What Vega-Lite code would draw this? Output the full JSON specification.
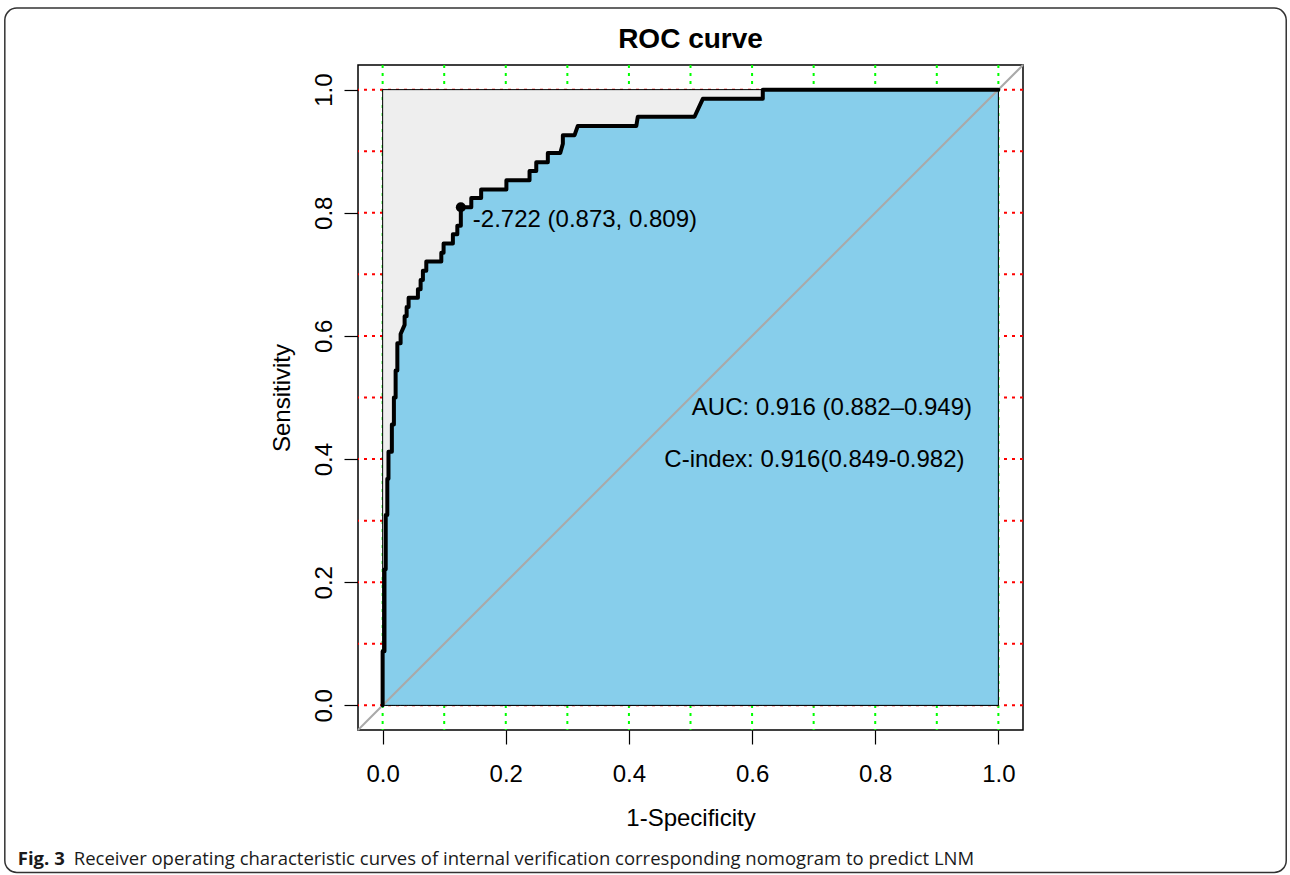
{
  "$schema": "https://vega.github.io/schema/vega-lite/v6.json",
  "autosize": {"type": "none"},
  "padding": {"left": 358, "top": 65, "right": 267, "bottom": 145},
  "width": 665,
  "height": 665,
  "background": "white",
  "config": {"font": "Liberation Sans", "view": {"stroke": "black", "strokeWidth": 1.5}},
  "title": {"text": "ROC curve", "fontSize": 28, "fontWeight": "bold", "font": "Liberation Sans", "color": "black", "anchor": "middle", "frame": "group", "baseline": "alphabetic", "offset": 17, "dy": 86},
  "datasets": {
    "one": [{"k": 1}],
    "grid": [{"v": 0}, {"v": 0.1}, {"v": 0.2}, {"v": 0.3}, {"v": 0.4}, {"v": 0.5}, {"v": 0.6}, {"v": 0.7}, {"v": 0.8}, {"v": 0.9}, {"v": 1}],
    "roc": [
      {"i": 1, "fpr": 0, "tpr": 0},
      {"i": 2, "fpr": 0, "tpr": 0.088},
      {"i": 3, "fpr": 0.003, "tpr": 0.088},
      {"i": 4, "fpr": 0.003, "tpr": 0.221},
      {"i": 5, "fpr": 0.005, "tpr": 0.221},
      {"i": 6, "fpr": 0.005, "tpr": 0.309},
      {"i": 7, "fpr": 0.0076, "tpr": 0.309},
      {"i": 8, "fpr": 0.0076, "tpr": 0.368},
      {"i": 9, "fpr": 0.0095, "tpr": 0.368},
      {"i": 10, "fpr": 0.0095, "tpr": 0.412},
      {"i": 11, "fpr": 0.015, "tpr": 0.412},
      {"i": 12, "fpr": 0.015, "tpr": 0.456},
      {"i": 13, "fpr": 0.0183, "tpr": 0.456},
      {"i": 14, "fpr": 0.0183, "tpr": 0.5},
      {"i": 15, "fpr": 0.0211, "tpr": 0.5},
      {"i": 16, "fpr": 0.0211, "tpr": 0.544},
      {"i": 17, "fpr": 0.0239, "tpr": 0.544},
      {"i": 18, "fpr": 0.0239, "tpr": 0.588},
      {"i": 19, "fpr": 0.0292, "tpr": 0.588},
      {"i": 20, "fpr": 0.0292, "tpr": 0.603},
      {"i": 21, "fpr": 0.0357, "tpr": 0.618},
      {"i": 22, "fpr": 0.0357, "tpr": 0.632},
      {"i": 23, "fpr": 0.039, "tpr": 0.632},
      {"i": 24, "fpr": 0.039, "tpr": 0.647},
      {"i": 25, "fpr": 0.0422, "tpr": 0.647},
      {"i": 26, "fpr": 0.0422, "tpr": 0.662},
      {"i": 27, "fpr": 0.0573, "tpr": 0.662},
      {"i": 28, "fpr": 0.0573, "tpr": 0.676},
      {"i": 29, "fpr": 0.0617, "tpr": 0.676},
      {"i": 30, "fpr": 0.0617, "tpr": 0.691},
      {"i": 31, "fpr": 0.0654, "tpr": 0.691},
      {"i": 32, "fpr": 0.0654, "tpr": 0.706},
      {"i": 33, "fpr": 0.0709, "tpr": 0.706},
      {"i": 34, "fpr": 0.0709, "tpr": 0.721},
      {"i": 35, "fpr": 0.0953, "tpr": 0.721},
      {"i": 36, "fpr": 0.0953, "tpr": 0.735},
      {"i": 37, "fpr": 0.099, "tpr": 0.735},
      {"i": 38, "fpr": 0.099, "tpr": 0.75},
      {"i": 39, "fpr": 0.1141, "tpr": 0.75},
      {"i": 40, "fpr": 0.1141, "tpr": 0.765},
      {"i": 41, "fpr": 0.1213, "tpr": 0.765},
      {"i": 42, "fpr": 0.1213, "tpr": 0.779},
      {"i": 43, "fpr": 0.127, "tpr": 0.779},
      {"i": 44, "fpr": 0.127, "tpr": 0.809},
      {"i": 45, "fpr": 0.144, "tpr": 0.809},
      {"i": 46, "fpr": 0.144, "tpr": 0.824},
      {"i": 47, "fpr": 0.16, "tpr": 0.824},
      {"i": 48, "fpr": 0.16, "tpr": 0.838},
      {"i": 49, "fpr": 0.201, "tpr": 0.838},
      {"i": 50, "fpr": 0.201, "tpr": 0.853},
      {"i": 51, "fpr": 0.2386, "tpr": 0.853},
      {"i": 52, "fpr": 0.2386, "tpr": 0.868},
      {"i": 53, "fpr": 0.2495, "tpr": 0.868},
      {"i": 54, "fpr": 0.2495, "tpr": 0.882},
      {"i": 55, "fpr": 0.2683, "tpr": 0.882},
      {"i": 56, "fpr": 0.2683, "tpr": 0.897},
      {"i": 57, "fpr": 0.2885, "tpr": 0.897},
      {"i": 58, "fpr": 0.2927, "tpr": 0.912},
      {"i": 59, "fpr": 0.2927, "tpr": 0.926},
      {"i": 60, "fpr": 0.3117, "tpr": 0.926},
      {"i": 61, "fpr": 0.317, "tpr": 0.941},
      {"i": 62, "fpr": 0.412, "tpr": 0.941},
      {"i": 63, "fpr": 0.4144, "tpr": 0.956},
      {"i": 64, "fpr": 0.5065, "tpr": 0.956},
      {"i": 65, "fpr": 0.52, "tpr": 0.985},
      {"i": 66, "fpr": 0.6174, "tpr": 0.985},
      {"i": 67, "fpr": 0.6174, "tpr": 1},
      {"i": 68, "fpr": 1, "tpr": 1}
    ],
    "thr": [{"fpr": 0.127, "tpr": 0.809, "label": "-2.722 (0.873, 0.809)"}],
    "notes": [
      {"x": 0.7297, "y": 0.4825, "label": "AUC: 0.916 (0.882–0.949)"},
      {"x": 0.7013, "y": 0.398, "label": "C-index: 0.916(0.849-0.982)"}
    ]
  },
  "layer": [
    {
      "data": {"name": "grid"},
      "mark": {"type": "rule", "stroke": "#00FF00", "strokeWidth": 2, "strokeDash": [3, 5]},
      "encoding": {
        "x": {"field": "v", "type": "quantitative", "scale": {"domain": [-0.04, 1.04], "nice": false, "zero": false},
          "axis": {"title": "1-Specificity", "values": [0, 0.2, 0.4, 0.6, 0.8, 1], "format": ".1f", "domain": false, "grid": false, "ticks": true, "tickColor": "black", "tickSize": 14, "tickWidth": 1.2, "labelFontSize": 24, "labelColor": "black", "labelFont": "Liberation Sans", "labelPadding": 18, "labelFlush": false, "labelOverlap": false, "titleFont": "Liberation Sans", "titleFontSize": 24, "titleFontWeight": "normal", "titleColor": "black", "titlePadding": 20}}
      }
    },
    {
      "data": {"name": "grid"},
      "mark": {"type": "rule", "stroke": "#FF0000", "strokeWidth": 2, "strokeDash": [3, 5]},
      "encoding": {
        "y": {"field": "v", "type": "quantitative", "scale": {"domain": [-0.04, 1.04], "nice": false, "zero": false},
          "axis": {"title": "Sensitivity", "values": [0, 0.2, 0.4, 0.6, 0.8, 1], "format": ".1f", "domain": false, "grid": false, "ticks": true, "tickColor": "black", "tickSize": 14, "tickWidth": 1.2, "labelFontSize": 24, "labelColor": "black", "labelFont": "Liberation Sans", "labelAngle": -90, "labelAlign": "center", "labelBaseline": "alphabetic", "labelPadding": 13, "labelFlush": false, "labelOverlap": false, "titleFont": "Liberation Sans", "titleFontSize": 24, "titleFontWeight": "normal", "titleColor": "black", "titlePadding": 18}}
      }
    },
    {
      "data": {"name": "one"},
      "mark": {"type": "rect", "fill": "#EEEEEE", "stroke": "black", "strokeWidth": 1},
      "encoding": {
        "x": {"datum": 0, "type": "quantitative"},
        "x2": {"datum": 1},
        "y": {"datum": 0, "type": "quantitative"},
        "y2": {"datum": 1}
      }
    },
    {
      "data": {"name": "roc"},
      "mark": {"type": "area", "fill": "#87CEEB", "stroke": "black", "strokeWidth": 1, "interpolate": "linear"},
      "encoding": {
        "x": {"field": "fpr", "type": "quantitative"},
        "y": {"field": "tpr", "type": "quantitative", "stack": null},
        "y2": {"datum": 0}
      }
    },
    {
      "data": {"name": "one"},
      "mark": {"type": "rule", "stroke": "#A9A9A9", "strokeWidth": 2},
      "encoding": {
        "x": {"datum": -0.04, "type": "quantitative"},
        "x2": {"datum": 1.04},
        "y": {"datum": -0.04, "type": "quantitative"},
        "y2": {"datum": 1.04}
      }
    },
    {
      "data": {"name": "roc"},
      "mark": {"type": "line", "stroke": "black", "strokeWidth": 4, "strokeJoin": "round", "strokeCap": "round", "interpolate": "linear"},
      "encoding": {
        "x": {"field": "fpr", "type": "quantitative"},
        "y": {"field": "tpr", "type": "quantitative"},
        "order": {"field": "i", "type": "quantitative"}
      }
    },
    {
      "data": {"name": "thr"},
      "mark": {"type": "point", "shape": "circle", "filled": true, "color": "black", "size": 100, "opacity": 1},
      "encoding": {
        "x": {"field": "fpr", "type": "quantitative"},
        "y": {"field": "tpr", "type": "quantitative"}
      }
    },
    {
      "data": {"name": "thr"},
      "mark": {"type": "text", "font": "Liberation Sans", "fontSize": 24, "color": "black", "align": "left", "baseline": "middle", "dx": 12, "dy": 13},
      "encoding": {
        "x": {"field": "fpr", "type": "quantitative"},
        "y": {"field": "tpr", "type": "quantitative"},
        "text": {"field": "label"}
      }
    },
    {
      "data": {"name": "notes"},
      "mark": {"type": "text", "font": "Liberation Sans", "fontSize": 24, "color": "black", "align": "center", "baseline": "middle"},
      "encoding": {
        "x": {"field": "x", "type": "quantitative"},
        "y": {"field": "y", "type": "quantitative"},
        "text": {"field": "label"}
      }
    },
    {
      "data": {"name": "one"},
      "mark": {"type": "rect", "fill": null, "fillOpacity": 0, "stroke": "#333333", "strokeWidth": 1.5, "cornerRadius": 12, "clip": false},
      "encoding": {
        "x": {"datum": -0.6136, "type": "quantitative"},
        "x2": {"datum": 1.4675},
        "y": {"datum": 1.1324, "type": "quantitative"},
        "y2": {"datum": -0.2713}
      }
    },
    {
      "data": {"name": "one"},
      "mark": {"type": "text", "text": "Fig. 3", "font": "Open Sans", "fontWeight": "bold", "fontSize": 18.5, "color": "#1a1a1a", "align": "left", "baseline": "alphabetic", "clip": false},
      "encoding": {
        "x": {"datum": -0.5925, "type": "quantitative"},
        "y": {"datum": -0.26, "type": "quantitative"}
      }
    },
    {
      "data": {"name": "one"},
      "mark": {"type": "text", "text": "Receiver operating characteristic curves of internal verification corresponding nomogram to predict LNM", "font": "Open Sans", "fontSize": 18.5, "color": "#1a1a1a", "align": "left", "baseline": "alphabetic", "clip": false},
      "encoding": {
        "x": {"datum": -0.5016, "type": "quantitative"},
        "y": {"datum": -0.26, "type": "quantitative"}
      }
    }
  ]
}
